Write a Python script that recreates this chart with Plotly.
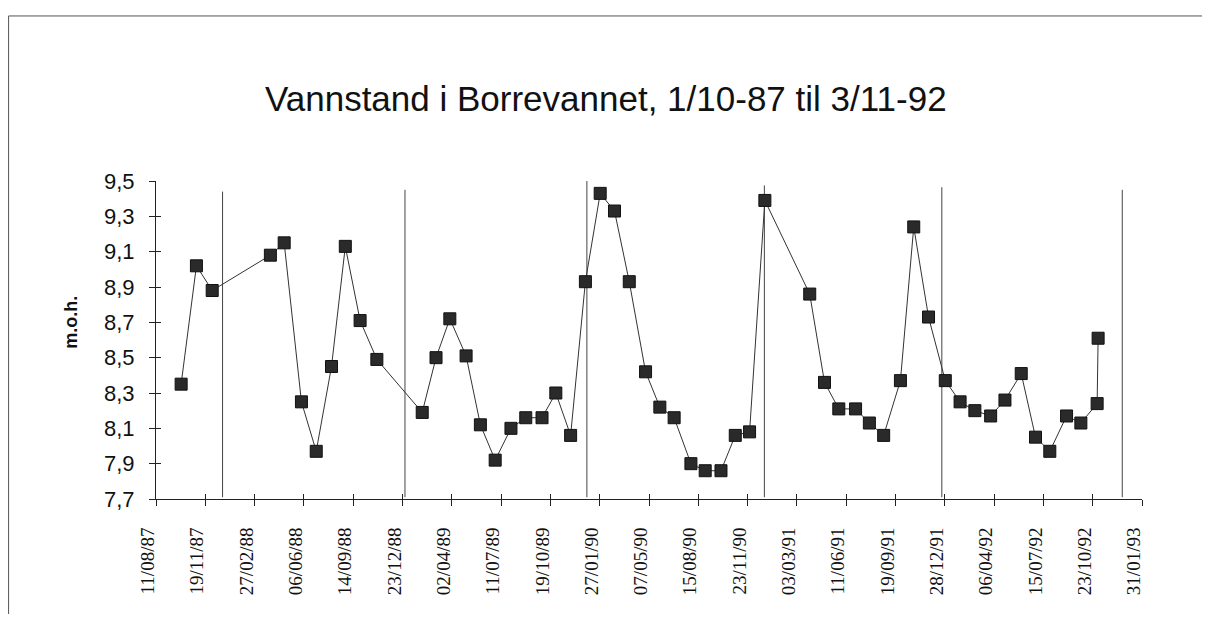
import pandas as pd
import plotly.graph_objects as go

# ---- data ----
sample_dates = [
    "1987-10-01", "1987-11-01", "1987-12-03",
    "1988-03-30", "1988-04-27", "1988-06-01", "1988-07-01", "1988-08-01",
    "1988-08-29", "1988-09-28", "1988-11-01",
    "1989-02-01", "1989-03-01", "1989-03-29", "1989-05-01", "1989-05-30",
    "1989-06-29", "1989-07-31", "1989-08-30", "1989-10-02", "1989-10-30",
    "1989-11-29", "1989-12-29",
    "1990-01-28", "1990-02-26", "1990-03-28", "1990-04-30", "1990-05-29",
    "1990-06-27", "1990-07-31", "1990-08-29", "1990-09-30", "1990-10-29",
    "1990-11-27", "1990-12-28",
    "1991-03-29", "1991-04-28", "1991-05-27", "1991-06-30", "1991-07-28",
    "1991-08-26", "1991-09-29", "1991-10-26", "1991-11-25", "1991-12-29",
    "1992-01-28", "1992-02-27", "1992-03-30", "1992-04-28", "1992-05-31",
    "1992-06-29", "1992-07-28", "1992-08-31", "1992-09-29", "1992-11-01",
    "1992-11-03",
]
water_level = [
    8.35, 9.02, 8.88,
    9.08, 9.15, 8.25, 7.97, 8.45, 9.13, 8.71, 8.49,
    8.19, 8.50, 8.72, 8.51, 8.12, 7.92, 8.10, 8.16, 8.16, 8.30, 8.06, 8.93,
    9.43, 9.33, 8.93, 8.42, 8.22, 8.16, 7.90, 7.86, 7.86, 8.06, 8.08, 9.39,
    8.86, 8.36, 8.21, 8.21, 8.13, 8.06, 8.37, 9.24, 8.73, 8.37,
    8.25, 8.20, 8.17, 8.26, 8.41, 8.05, 7.97, 8.17, 8.13, 8.24, 8.61,
]
x_tick_labels = [
    "11/08/87", "19/11/87", "27/02/88", "06/06/88", "14/09/88", "23/12/88",
    "02/04/89", "11/07/89", "19/10/89", "27/01/90", "07/05/90", "15/08/90",
    "23/11/90", "03/03/91", "11/06/91", "19/09/91", "28/12/91", "06/04/92",
    "15/07/92", "23/10/92", "31/01/93",
]
y_tick_values = [7.7, 7.9, 8.1, 8.3, 8.5, 8.7, 8.9, 9.1, 9.3, 9.5]
year_line_dates = ["1987-12-24", "1988-12-28", "1990-01-01",
                   "1990-12-27", "1991-12-22", "1992-12-22"]
year_line_tops = [9.44, 9.45, 9.50, 9.475, 9.465, 9.45]

title_text = "Vannstand i Borrevannet, 1/10-87 til 3/11-92"
y_title = "m.o.h."

# ---- figure ----
x_ticks = pd.to_datetime(x_tick_labels, format="%d/%m/%y")
x_range = [x_ticks[0], x_ticks[-1]]
y_range = [y_tick_values[0], y_tick_values[-1]]

fig = go.Figure()
fig.add_trace(go.Scatter(
    x=pd.to_datetime(sample_dates), y=water_level,
    mode="lines+markers",
    line=dict(color="#333333", width=1),
    marker=dict(symbol="square", size=12, color="#2a2a2a",
                line=dict(color="#111111", width=1)),
    showlegend=False, hoverinfo="x+y",
))
# invisible trace so that the overlay axes (inside tick halves) are drawn
fig.add_trace(go.Scatter(
    x=[x_ticks[0]], y=[y_tick_values[0]], xaxis="x2", yaxis="y2",
    mode="markers", marker=dict(opacity=0), showlegend=False,
    hoverinfo="skip",
))

for d, top in zip(year_line_dates, year_line_tops):
    fig.add_shape(type="line", xref="x", yref="y",
                  x0=d, x1=d, y0=7.71, y1=top,
                  line=dict(color="#444444", width=1), layer="below")

# outer frame (top and left edges of the scanned chart border)
fig.add_shape(type="line", xref="paper", yref="paper",
              x0=-0.1495, x1=1.07, y0=1.519, y1=1.519,
              line=dict(color="#555555", width=1))
fig.add_shape(type="line", xref="paper", yref="paper",
              x0=-0.1495, x1=-0.1495, y0=1.519, y1=-0.40,
              line=dict(color="#555555", width=1))

fig.add_annotation(text=title_text, xref="paper", yref="paper",
                   x=0.456, y=1.26, xanchor="center", yanchor="middle",
                   showarrow=False,
                   font=dict(family="Liberation Sans, Arial", size=35,
                             color="#111111"))
fig.add_annotation(text="<b>" + y_title + "</b>", xref="paper", yref="paper",
                   x=-0.087, y=0.555, xanchor="center", yanchor="middle",
                   textangle=-90, showarrow=False,
                   font=dict(family="Liberation Sans, Arial", size=18,
                             color="#111111"))

# the page body adds an 8 px margin on every side
fig.update_layout(
    width=1194, height=606,
    margin=dict(l=148, r=60, t=173, b=115),
    paper_bgcolor="white", plot_bgcolor="white",
    separators=", ",
    xaxis=dict(
        range=x_range, tickvals=x_ticks, ticktext=x_tick_labels,
        tickangle=-90, ticks="outside", ticklen=6, tickcolor="#222222",
        showline=True, linecolor="#222222", linewidth=1,
        showgrid=False, zeroline=False,
        tickfont=dict(family="Liberation Serif, Times New Roman", size=19,
                      color="#111111"),
        ticklabelstandoff=14, ticklabelshift=-8,
    ),
    yaxis=dict(
        range=y_range, tickvals=y_tick_values, tickformat=".1f",
        ticks="outside", ticklen=6, tickcolor="#222222",
        showline=True, linecolor="#222222", linewidth=1,
        showgrid=False, zeroline=False,
        tickfont=dict(family="Liberation Sans, Arial", size=22,
                      color="#111111"),
        ticklabelstandoff=10,
    ),
    xaxis2=dict(
        overlaying="x", anchor="y", side="bottom", range=x_range,
        tickvals=x_ticks, ticks="inside", ticklen=5, tickcolor="#222222",
        showticklabels=False, showgrid=False, zeroline=False, showline=False,
    ),
    yaxis2=dict(
        overlaying="y", anchor="x", side="left", range=y_range,
        tickvals=y_tick_values, ticks="inside", ticklen=5, tickcolor="#222222",
        showticklabels=False, showgrid=False, zeroline=False, showline=False,
    ),
)

fig.write_html("out.html")
